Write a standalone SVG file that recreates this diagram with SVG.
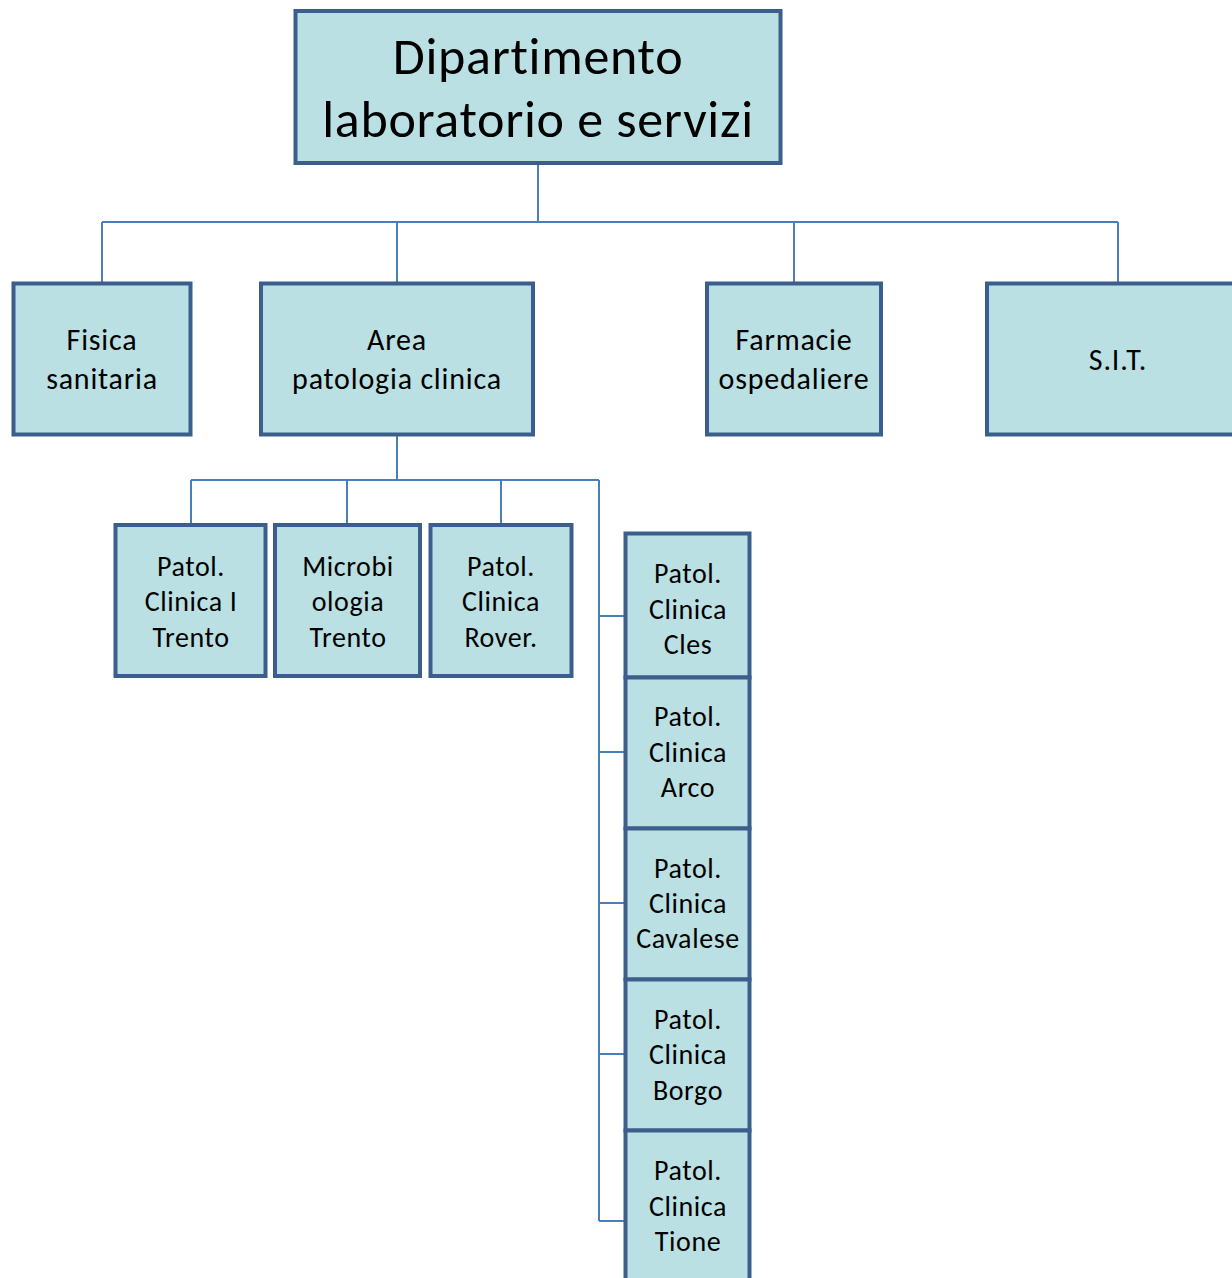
<svg xmlns="http://www.w3.org/2000/svg" width="1232" height="1278" viewBox="0 0 1232 1278">
<style>
.box{fill:#bae0e3;stroke:#3b5e8c;stroke-width:4}
.t{font-family:Carlito,Lato,"Open Sans",sans-serif;fill:#000;text-anchor:middle}
.big{font-size:52px;letter-spacing:0.7px}
.mid{font-size:30px;letter-spacing:0.8px}
.sm{font-size:28px;letter-spacing:0.6px}
.c{fill:none;stroke:#4a7ebb;stroke-width:2}
</style>
<rect width="1232" height="1278" fill="#fff"/>
<g id="connectors">
<path class="c" d="M538 164V222M102 222H1118M102 222V283M397 222V283M794 222V283M1118 222V283"/>
<path class="c" d="M397 436V480M191 480H599M191 480V524M347 480V524M501 480V524M599 480V1221M599 616H627M599 752H627M599 903H627M599 1054H627M599 1221H627"/>
</g>
<g id="n-dipartimento"><rect class="box" x="295.5" y="11" width="485" height="152"/><text class="t big" x="538" y="74">Dipartimento</text><text class="t big" x="538" y="137">laboratorio e servizi</text></g>
<g id="n-fisica"><rect class="box" x="13.5" y="283.5" width="177" height="151"/><text class="t mid" x="102" y="350">Fisica</text><text class="t mid" x="102" y="389">sanitaria</text></g>
<g id="n-area"><rect class="box" x="261" y="283.5" width="272" height="151"/><text class="t mid" x="397" y="350">Area</text><text class="t mid" x="397" y="389">patologia clinica</text></g>
<g id="n-farmacie"><rect class="box" x="707" y="283.5" width="174" height="151"/><text class="t mid" x="794" y="350">Farmacie</text><text class="t mid" x="794" y="389">ospedaliere</text></g>
<g id="n-sit"><rect class="box" x="987" y="283.5" width="260" height="151"/><text class="t mid" x="1118" y="370">S.I.T.</text></g>
<g id="n-trento"><rect class="box" x="115.5" y="525" width="150" height="151"/><text class="t sm" x="191" y="576">Patol.</text><text class="t sm" x="191" y="611">Clinica I</text><text class="t sm" x="191" y="647">Trento</text></g>
<g id="n-micro"><rect class="box" x="275" y="525" width="145" height="151"/><text class="t sm" x="348" y="576">Microbi</text><text class="t sm" x="348" y="611">ologia</text><text class="t sm" x="348" y="647">Trento</text></g>
<g id="n-rover"><rect class="box" x="430.5" y="525" width="141" height="151"/><text class="t sm" x="501" y="576">Patol.</text><text class="t sm" x="501" y="611">Clinica</text><text class="t sm" x="501" y="647">Rover.</text></g>
<g id="n-cles"><rect class="box" x="625.5" y="533.5" width="124" height="144"/><text class="t sm" x="688" y="583">Patol.</text><text class="t sm" x="688" y="619">Clinica</text><text class="t sm" x="688" y="654">Cles</text></g>
<g id="n-arco"><rect class="box" x="625.5" y="677.5" width="124" height="151"/><text class="t sm" x="688" y="726">Patol.</text><text class="t sm" x="688" y="762">Clinica</text><text class="t sm" x="688" y="797">Arco</text></g>
<g id="n-cavalese"><rect class="box" x="625.5" y="828.5" width="124" height="151"/><text class="t sm" x="688" y="878">Patol.</text><text class="t sm" x="688" y="913">Clinica</text><text class="t sm" x="688" y="948">Cavalese</text></g>
<g id="n-borgo"><rect class="box" x="625.5" y="979.5" width="124" height="151"/><text class="t sm" x="688" y="1029">Patol.</text><text class="t sm" x="688" y="1064">Clinica</text><text class="t sm" x="688" y="1100">Borgo</text></g>
<g id="n-tione"><rect class="box" x="625.5" y="1130.5" width="124" height="160"/><text class="t sm" x="688" y="1180">Patol.</text><text class="t sm" x="688" y="1216">Clinica</text><text class="t sm" x="688" y="1251">Tione</text></g>
</svg>
